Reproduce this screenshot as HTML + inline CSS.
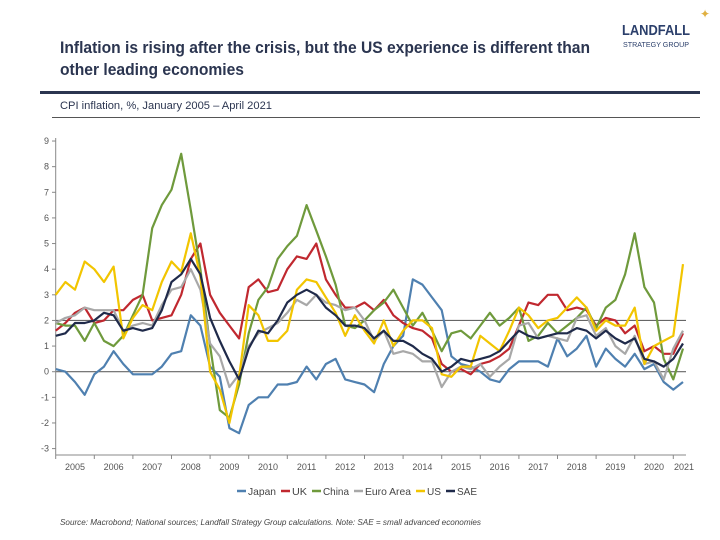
<!DOCTYPE html>
<html><head><meta charset="utf-8"><style>
body{margin:0;background:#fff}
svg{display:block;font-family:"Liberation Sans",sans-serif}
</style></head><body>
<svg id="c" width="720" height="540" viewBox="0 0 720 540">
<text x="60" y="53" font-size="17" font-weight="bold" fill="#2b3550" textLength="530" lengthAdjust="spacingAndGlyphs">Inflation is rising after the crisis, but the US experience is different than</text>
<text x="60" y="75" font-size="17" font-weight="bold" fill="#2b3550" textLength="184" lengthAdjust="spacingAndGlyphs">other leading economies</text>
<text x="622" y="35" font-size="15" font-weight="bold" fill="#2b3f6b" textLength="68" lengthAdjust="spacingAndGlyphs">LANDFALL</text>
<text x="623" y="47" font-size="7" fill="#2b3f6b" textLength="66" lengthAdjust="spacingAndGlyphs">STRATEGY GROUP</text>
<text x="700" y="18" font-size="12" fill="#e0b040">✦</text>
<rect x="40" y="91" width="660" height="3" fill="#2b3550"/>
<text x="60" y="109" font-size="11" fill="#2b3550" textLength="212" lengthAdjust="spacingAndGlyphs">CPI inflation, %, January 2005 – April 2021</text>
<rect x="52" y="117" width="648" height="1" fill="#555"/>
<g id="axes"></g>
<g id="lines"></g>
<g id="legend"></g>
<text x="60" y="525" font-size="8" font-style="italic" fill="#444" textLength="421" lengthAdjust="spacingAndGlyphs">Source: Macrobond;  National sources; Landfall Strategy Group calculations. Note: SAE = small advanced economies</text>
</svg>
<script>
const yTicks=[9,8,7,6,5,4,3,2,1,0,-1,-2,-3];
const years=["2005","2006","2007","2008","2009","2010","2011","2012","2013","2014","2015","2016","2017","2018","2019","2020","2021"];
const seriesNames=["Japan","UK","China","Euro Area","US","SAE"];
const japan=[0.1,0.0,-0.4,-0.9,-0.1,0.2,0.8,0.3,-0.1,-0.1,-0.1,0.2,0.7,0.8,2.2,1.8,0.2,-0.2,-2.2,-2.4,-1.3,-1.0,-1.0,-0.5,-0.5,-0.4,0.2,-0.3,0.3,0.5,-0.3,-0.4,-0.5,-0.8,0.3,1.0,1.4,3.6,3.4,2.9,2.4,0.6,0.3,0.2,0.0,-0.3,-0.4,0.1,0.4,0.4,0.4,0.2,1.3,0.6,0.9,1.4,0.2,0.9,0.5,0.2,0.7,0.1,0.3,-0.4,-0.7,-0.4];
const uk=[1.6,1.9,2.3,2.5,1.9,2.0,2.4,2.4,2.8,3.0,2.0,2.1,2.2,3.0,4.4,5.0,3.0,2.3,1.8,1.3,3.3,3.6,3.1,3.2,4.0,4.5,4.4,5.0,3.6,3.0,2.5,2.5,2.7,2.4,2.8,2.2,1.9,1.7,1.6,1.3,0.3,0.0,0.1,-0.1,0.3,0.4,0.6,0.9,1.8,2.7,2.6,3.0,3.0,2.4,2.5,2.4,1.8,2.1,2.0,1.5,1.8,0.8,1.0,0.7,0.7,1.5];
const china=[1.9,1.8,1.8,1.2,1.9,1.2,1.0,1.4,2.2,3.0,5.6,6.5,7.1,8.5,6.3,4.0,1.0,-1.5,-1.8,-0.5,1.5,2.8,3.3,4.4,4.9,5.3,6.5,5.5,4.5,3.4,1.8,1.7,2.0,2.4,2.7,3.2,2.5,1.8,2.3,1.6,0.8,1.5,1.6,1.3,1.8,2.3,1.8,2.1,2.5,1.2,1.4,1.9,1.5,1.8,2.1,2.5,1.7,2.5,2.8,3.8,5.4,3.3,2.7,0.5,-0.3,0.9];
const euro=[1.9,2.1,2.2,2.5,2.4,2.4,2.4,1.6,1.8,1.9,1.8,2.6,3.2,3.3,4.0,3.2,1.1,0.6,-0.6,-0.1,1.0,1.5,1.7,1.9,2.3,2.8,2.6,3.0,2.7,2.6,2.4,2.5,2.0,1.2,1.6,0.7,0.8,0.7,0.4,0.4,-0.6,0.0,0.2,0.1,0.3,-0.2,0.2,0.5,1.8,1.9,1.3,1.4,1.3,1.2,2.1,2.2,1.4,1.7,1.0,0.7,1.4,0.3,0.4,-0.3,0.9,1.6];
const us=[3.0,3.5,3.2,4.3,4.0,3.5,4.1,1.3,2.1,2.6,2.4,3.5,4.3,3.9,5.4,3.7,0.0,-0.7,-2.0,-0.2,2.6,2.2,1.2,1.2,1.6,3.2,3.6,3.5,2.9,2.3,1.4,2.2,1.6,1.1,2.0,1.0,1.6,2.0,2.0,1.7,-0.1,-0.2,0.2,0.2,1.4,1.1,0.8,1.6,2.5,2.2,1.7,2.0,2.1,2.5,2.9,2.5,1.6,2.0,1.8,1.8,2.5,0.3,1.0,1.2,1.4,4.2];
const sae=[1.4,1.5,1.9,1.9,2.0,2.3,2.2,1.6,1.7,1.6,1.7,2.4,3.5,3.8,4.4,3.8,2.1,1.2,0.4,-0.3,0.9,1.6,1.5,2.0,2.7,3.0,3.2,3.0,2.5,2.2,1.8,1.8,1.7,1.3,1.6,1.2,1.2,1.0,0.7,0.5,0.0,0.2,0.5,0.4,0.5,0.6,0.8,1.2,1.6,1.4,1.3,1.4,1.5,1.5,1.7,1.6,1.3,1.6,1.3,1.1,1.3,0.5,0.4,0.2,0.5,1.1];
const colors=["#4f80b0","#c0282f","#6f9a3c","#a8a8a8","#f2c500","#1f2a4a"];
const NS="http://www.w3.org/2000/svg";
const X0=55.7,YW=38.6,Y0=371.7,U=25.63;
function xs(m){return X0+m*YW/12;}
function ys(v){return Y0-v*U;}
function mk(tag,at,parent){const e=document.createElementNS(NS,tag);for(const k in at)e.setAttribute(k,at[k]);parent.appendChild(e);return e;}
const ax=document.getElementById('axes');
yTicks.forEach(t=>{
  const tx=mk('text',{x:49,y:ys(t)+3,'font-size':9,fill:'#555','text-anchor':'end'},ax);
  tx.textContent=t;
  
  
  const tk=mk('line',{x1:52,x2:56,y1:ys(t),y2:ys(t),stroke:'#888'},ax);
  
  
});
[0,2].forEach(g=>{
  const gl=mk('line',{x1:X0,x2:686,y1:ys(g),y2:ys(g),stroke:'#666','stroke-width':1.2},ax);
  
  
});
const yaxis=mk('line',{x1:X0,x2:X0,y1:138,y2:455,stroke:'#888'},ax);


const xaxis=mk('line',{x1:X0,x2:686,y1:455,y2:455,stroke:'#888'},ax);


years.forEach((yr,i)=>{
  const tk=mk('line',{x1:xs(i*12),x2:xs(i*12),y1:455,y2:459,stroke:'#888'},ax);
  
  
  const cx=i===years.length-1?684:xs(i*12+6);
  const tx=mk('text',{x:cx,y:470,'font-size':9,fill:'#555','text-anchor':'middle'},ax);
  tx.textContent=yr;
  
  
});
const all=[japan,uk,china,euro,us,sae];
const lg=document.getElementById('lines');
all.forEach((s,si)=>{
  const pts=s.map((v,i)=>xs(i*3).toFixed(1)+','+ys(v).toFixed(1)).join(' ');
  const p=mk('polyline',{points:pts,fill:'none',stroke:colors[si],'stroke-width':2.2,'stroke-linejoin':'round'},lg);
  
  
});
const leg=document.getElementById('legend');
let lx=237;
const widths=[28,15,26,46,14,20];
seriesNames.forEach((n,i)=>{
  const sw=mk('line',{x1:lx,x2:lx+9,y1:491,y2:491,stroke:colors[i],'stroke-width':2.5},leg);
  
  
  const t=mk('text',{x:lx+11,y:495,'font-size':10.5,fill:'#444',textLength:widths[i],lengthAdjust:'spacingAndGlyphs'},leg);
  t.textContent=n;
  
  
  lx+=11+widths[i]+5;
});
</script>
</body></html>
